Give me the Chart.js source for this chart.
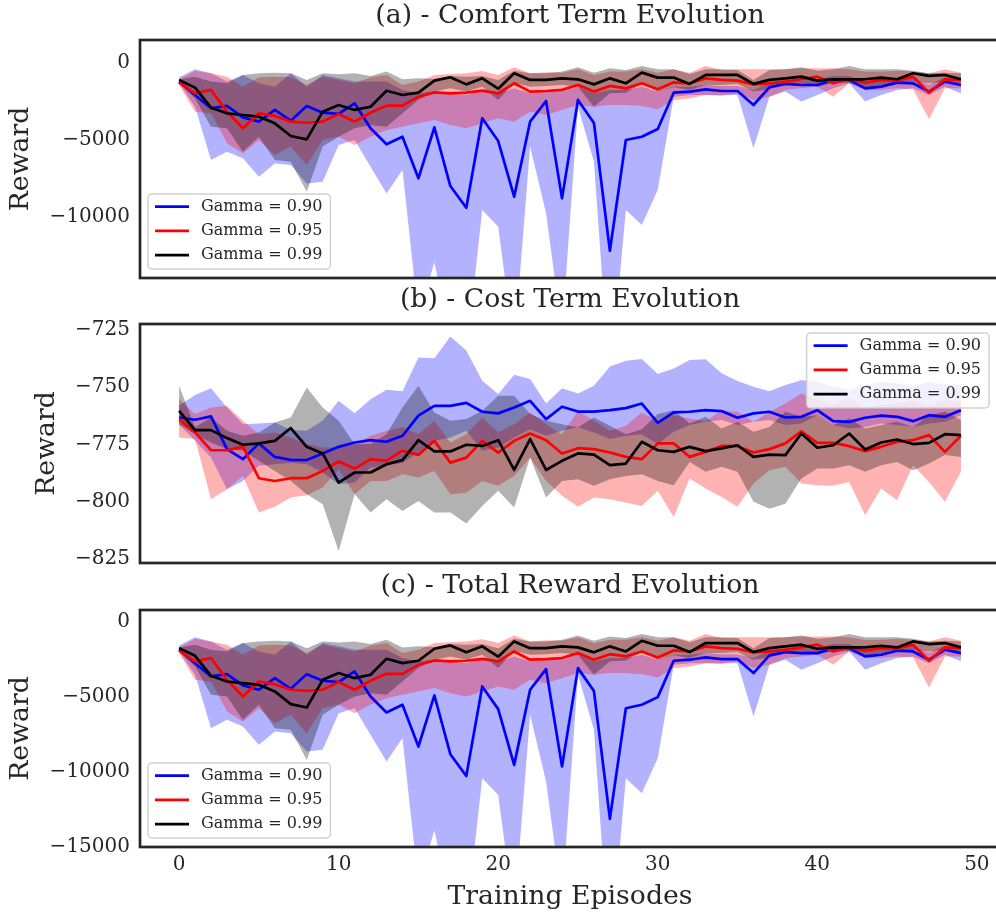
<!DOCTYPE html>
<html>
<head>
<meta charset="utf-8">
<title>Reward evolution</title>
<script src="https://cdn.jsdelivr.net/npm/chart.js@4.4.1/dist/chart.umd.min.js"></script>
<style>
  html, body { margin: 0; padding: 0; background: #fff; overflow: hidden; }
  #wrap { position: relative; width: 996px; height: 918px; overflow: hidden; }
  canvas { position: absolute; left: 0; }
</style>
</head>
<body>
<div id="wrap">
  <canvas id="comfortChart" width="1004" height="284" style="top:0px"></canvas>
  <canvas id="costChart" width="1004" height="285" style="top:284px"></canvas>
  <canvas id="totalChart" width="1004" height="349" style="top:569px"></canvas>
</div>
<script>
'use strict';

const FONT = "'DejaVu Serif', serif";
const INK  = '#262626';

const episodes = [0,1,2,3,4,5,6,7,8,9,10,11,12,13,14,15,16,17,18,19,20,21,22,23,24,
                  25,26,27,28,29,30,31,32,33,34,35,36,37,38,39,40,41,42,43,44,45,46,47,48,49];
const xTicks       = [0, 10, 20, 30, 40, 50];
const comfortTicks = [0, -5000, -10000];
const costTicks    = [-725, -750, -775, -800, -825];
const totalTicks   = [0, -5000, -10000, -15000];
const gammaLabels  = ['Gamma = 0.90', 'Gamma = 0.95', 'Gamma = 0.99'];

// (a) comfort term
const comfortMean090 = [-1210,-2080,-2940,-2790,-3530,-3810,-3050,-3750,-2790,-3230,
    -3310,-2620,-4240,-5280,-4790,-7490,-4180,-7990,-9400,-3590,
    -5070,-8680,-3810,-2470,-8790,-2400,-3900,-12190,-5000,-4790,
    -4290,-1930,-1860,-1710,-1820,-1820,-2730,-1580,-1360,-1430,
    -1430,-1100,-1100,-1650,-1540,-1280,-1320,-1860,-1210,-1430];
const comfortHigh090 = [-930,-410,-670,-1210,-780,-1320,-1540,-670,-1540,-780,
    -1000,-1210,-1210,-1210,-1750,-1970,-1860,-1970,-2080,-1750,
    -1970,-1650,-1970,-1750,-1860,-1540,-1970,-1750,-1750,-1540,
    -1860,-1540,-1540,-1430,-1490,-1490,-1750,-1280,-1100,-1150,
    -1060,-840,-840,-1210,-1150,-1000,-1000,-1430,-930,-1100];
const comfortLow090 = [-1320,-2840,-6300,-5760,-6190,-7380,-6520,-6630,-7820,-7710,
    -5330,-5000,-6730,-8470,-6950,-16500,-12930,-18000,-19000,-9550,
    -10630,-18500,-5430,-9760,-17500,-2840,-6410,-21000,-9550,-10520,
    -8250,-2190,-2080,-2080,-2080,-2080,-5540,-2190,-1860,-2510,
    -2080,-1650,-1320,-2510,-2080,-1750,-1650,-2080,-1540,-1970];
const comfortMean095 = [-1280,-1970,-1750,-3160,-4240,-3270,-3440,-3810,-3880,-3810,
    -3310,-3810,-3230,-2770,-2770,-2190,-1910,-1970,-1930,-1800,
    -1970,-1320,-1860,-1820,-1750,-1430,-1860,-1490,-1650,-1320,
    -1710,-1260,-1320,-1000,-1100,-1150,-1390,-1320,-1210,-1060,
    -890,-1320,-1060,-1280,-1100,-1150,-890,-1930,-1060,-1100];
const comfortHigh095 = [-1060,-500,-670,-890,-1540,-930,-890,-930,-1430,-890,
    -1100,-1320,-930,-780,-1430,-1210,-780,-710,-670,-520,
    -780,-280,-670,-610,-630,-410,-780,-560,-560,-410,
    -630,-410,-630,-200,-460,-410,-410,-410,-410,-350,
    -350,-350,-410,-560,-560,-500,-560,-670,-410,-630];
const comfortLow095 = [-1430,-3160,-3270,-5220,-5870,-5000,-5980,-5430,-6630,-5000,
    -4790,-5330,-4790,-4350,-4140,-3920,-3700,-4030,-4240,-3920,
    -3590,-3810,-3160,-3380,-3050,-2730,-2840,-2730,-2730,-2790,
    -3010,-2400,-2300,-2080,-2140,-1970,-2400,-2190,-1750,-1650,
    -1540,-2190,-1320,-1750,-1750,-1650,-1710,-3660,-1650,-1650];
const comfortMean099 = [-1100,-1600,-2900,-3270,-3380,-3490,-3920,-4740,-4960,-3160,
    -2730,-3050,-2840,-1800,-2080,-1930,-1150,-930,-1390,-1000,
    -1670,-670,-1100,-1100,-1000,-1060,-1390,-1000,-1320,-630,
    -950,-950,-1360,-780,-780,-780,-1360,-1100,-1000,-890,
    -1150,-1060,-1060,-1060,-950,-1060,-670,-840,-780,-1060];
const comfortHigh099 = [-1060,-890,-1210,-1320,-780,-670,-630,-670,-1100,-670,
    -740,-670,-840,-560,-1060,-1000,-1040,-840,-890,-840,
    -1100,-500,-670,-670,-560,-280,-630,-350,-460,-200,
    -410,-410,-710,-410,-410,-460,-1100,-460,-410,-280,
    -500,-410,-200,-410,-410,-410,-500,-670,-630,-670];
const comfortLow099 = [-1320,-2300,-4140,-4240,-5760,-4790,-6300,-6410,-8360,-5430,
    -4790,-4240,-4030,-4140,-3270,-2400,-1860,-1650,-1860,-1540,
    -2400,-1280,-1540,-1490,-1430,-1540,-2840,-1970,-1930,-1320,
    -1860,-1580,-1750,-1430,-1430,-1360,-1860,-1710,-1430,-1320,
    -1540,-1280,-1280,-1710,-1430,-1320,-1210,-1320,-1210,-1320];

// (b) cost term
const costMean090 = [-763.2,-764.2,-762.7,-777.0,-781.4,-774.5,-780.4,-781.7,-781.8,-778.9,
    -776.0,-774.1,-773.1,-773.8,-771.2,-762.4,-758.1,-758.1,-756.8,-760.7,
    -761.4,-758.8,-755.9,-763.9,-758.5,-760.6,-760.6,-760.0,-759.1,-757.1,
    -765.5,-761.0,-760.7,-760.0,-760.4,-763.3,-761.4,-760.7,-763.2,-762.9,
    -760.0,-764.8,-765.1,-763.3,-762.4,-762.9,-764.8,-762.2,-762.9,-760.0];
const costHigh090 = [-758.1,-753.4,-750.4,-758.8,-766.1,-765.8,-765.4,-768.7,-769.0,-764.6,
    -755.9,-761.4,-755.2,-751.1,-751.8,-737.0,-737.4,-727.9,-734.0,-747.2,
    -753.0,-744.5,-746.4,-757.1,-750.4,-752.7,-749.3,-741.0,-738.4,-737.7,
    -744.2,-741.8,-738.1,-737.8,-743.9,-747.3,-749.8,-751.7,-749.0,-746.9,
    -747.6,-749.8,-751.2,-749.0,-747.6,-748.3,-749.8,-747.6,-749.0,-749.0];
const costLow090 = [-766.1,-773.4,-780.7,-794.5,-790.9,-784.3,-783.6,-782.9,-783.6,-787.2,
    -792.3,-791.6,-785.0,-784.3,-782.9,-778.5,-773.4,-771.9,-769.0,-777.7,
    -776.3,-771.9,-768.3,-771.2,-769.0,-767.5,-769.7,-772.6,-771.2,-770.5,
    -774.8,-769.4,-766.5,-765.1,-764.3,-766.5,-765.1,-764.3,-766.5,-765.8,
    -762.2,-766.5,-768.0,-767.3,-765.8,-766.5,-767.3,-765.8,-765.1,-762.2];
const costMean095 = [-763.9,-769.7,-777.5,-777.5,-776.0,-789.7,-790.9,-789.7,-789.7,-786.5,
    -782.4,-785.5,-781.4,-782.1,-777.7,-779.5,-773.4,-782.9,-780.7,-773.4,
    -778.5,-773.4,-770.2,-773.1,-778.9,-776.6,-777.0,-778.5,-780.4,-781.4,
    -774.5,-774.5,-780.4,-778.2,-775.6,-775.7,-778.5,-777.0,-774.5,-769.2,
    -774.3,-774.3,-775.7,-777.9,-776.0,-773.8,-773.1,-770.9,-778.2,-771.2];
const costHigh095 = [-755.2,-761.7,-758.8,-758.1,-764.6,-770.5,-769.7,-771.9,-774.8,-776.3,
    -776.3,-774.8,-771.2,-769.0,-767.5,-770.5,-764.6,-774.1,-770.5,-763.2,
    -769.7,-766.1,-761.0,-766.1,-770.5,-760.3,-764.6,-769.0,-766.8,-761.0,
    -764.6,-762.2,-763.6,-764.8,-760.0,-760.7,-765.1,-760.7,-757.1,-752.7,
    -755.6,-757.8,-754.9,-759.2,-757.8,-757.1,-755.6,-758.5,-755.6,-756.3];
const costLow095 = [-771.9,-772.6,-798.9,-794.5,-788.7,-804.7,-802.2,-798.1,-797.1,-793.8,
    -785.8,-796.7,-790.9,-790.9,-788.0,-789.4,-786.5,-796.7,-796.0,-790.9,
    -793.0,-788.7,-780.7,-790.9,-797.4,-802.2,-798.1,-798.9,-800.3,-801.8,
    -795.2,-806.6,-789.8,-794.2,-797.9,-802.2,-792.0,-786.2,-784.7,-792.0,
    -792.8,-793.0,-791.3,-805.9,-794.2,-799.3,-784.0,-791.3,-800.0,-786.9];
const costMean099 = [-760.3,-768.7,-768.7,-772.2,-775.1,-774.5,-773.4,-767.8,-776.0,-778.9,
    -791.6,-787.2,-787.2,-783.6,-781.8,-773.1,-778.0,-778.0,-775.1,-775.6,
    -773.1,-786.1,-772.6,-786.1,-782.1,-778.9,-779.4,-784.0,-783.3,-773.8,
    -777.5,-778.2,-776.0,-777.9,-776.7,-775.3,-780.4,-779.4,-779.6,-770.2,
    -776.4,-775.3,-770.2,-777.2,-774.1,-772.8,-774.8,-774.3,-770.5,-770.9];
const costHigh099 = [-749.3,-767.5,-763.2,-769.0,-771.2,-769.7,-765.4,-763.2,-750.1,-758.8,
    -764.6,-774.8,-774.8,-770.5,-758.8,-749.3,-761.0,-764.6,-763.9,-760.3,
    -753.7,-753.7,-761.7,-764.6,-766.1,-767.5,-763.2,-766.8,-770.5,-768.3,
    -761.7,-760.0,-765.8,-762.9,-768.0,-765.1,-769.4,-767.3,-760.7,-762.9,
    -762.2,-766.5,-763.6,-768.0,-766.5,-765.1,-767.3,-762.2,-760.7,-764.3];
const costLow099 = [-766.1,-770.5,-774.1,-777.0,-777.7,-782.1,-786.5,-790.9,-796.7,-801.1,
    -821.5,-796.7,-804.7,-798.9,-804.0,-799.6,-804.7,-804.7,-809.5,-801.8,
    -795.2,-802.5,-780.7,-798.1,-790.9,-790.1,-793.0,-790.1,-788.7,-788.0,
    -790.9,-792.8,-782.6,-786.9,-784.7,-786.9,-800.0,-803.0,-800.8,-789.8,
    -785.5,-785.5,-784.0,-786.9,-784.0,-782.6,-786.2,-783.3,-779.6,-780.4];

// (c) total reward
const totalMean090 = [-1870,-2760,-3640,-3490,-4240,-4530,-3760,-4470,-3490,-3930,
    -4020,-3310,-4980,-6040,-5530,-8310,-4910,-8820,-10270,-4310,
    -5820,-9530,-4530,-3160,-9640,-3090,-4620,-13130,-5760,-5530,
    -5020,-2600,-2530,-2380,-2490,-2490,-3420,-2240,-2020,-2090,
    -2090,-1760,-1760,-2310,-2200,-1930,-1980,-2530,-1870,-2090];
const totalHigh090 = [-1580,-1040,-1310,-1870,-1420,-1980,-2200,-1310,-2200,-1420,
    -1640,-1870,-1870,-1870,-2420,-2640,-2530,-2640,-2760,-2420,
    -2640,-2310,-2640,-2420,-2530,-2200,-2640,-2420,-2420,-2200,
    -2530,-2200,-2200,-2090,-2160,-2160,-2420,-1930,-1760,-1800,
    -1710,-1490,-1490,-1870,-1800,-1640,-1640,-2090,-1580,-1760];
const totalLow090 = [-1980,-3530,-7090,-6530,-6980,-8200,-7310,-7420,-8640,-8530,
    -6090,-5760,-7530,-9310,-7760,-17500,-13890,-19000,-20000,-10420,
    -11530,-19500,-6200,-10640,-18500,-3530,-7200,-22500,-10420,-11420,
    -9090,-2870,-2760,-2760,-2760,-2760,-6310,-2870,-2530,-3200,
    -2760,-2310,-1980,-3200,-2760,-2420,-2310,-2760,-2200,-2640];
const totalMean095 = [-1930,-2640,-2420,-3870,-4980,-3980,-4160,-4530,-4600,-4530,
    -4020,-4530,-3930,-3470,-3470,-2870,-2580,-2640,-2600,-2470,
    -2640,-1980,-2530,-2490,-2420,-2090,-2530,-2160,-2310,-1980,
    -2380,-1910,-1980,-1640,-1760,-1800,-2040,-1980,-1870,-1710,
    -1530,-1980,-1710,-1930,-1760,-1800,-1530,-2600,-1710,-1760];
const totalHigh095 = [-1710,-1130,-1310,-1530,-2200,-1580,-1530,-1580,-2090,-1530,
    -1760,-1980,-1580,-1420,-2090,-1870,-1420,-1360,-1310,-1160,
    -1420,-910,-1310,-1240,-1270,-1040,-1420,-1200,-1200,-1040,
    -1270,-1040,-1270,-820,-1090,-1040,-1040,-1040,-1040,-980,
    -980,-980,-1040,-1200,-1200,-1130,-1200,-1310,-1040,-1270];
const totalLow095 = [-2090,-3870,-3980,-5980,-6640,-5760,-6760,-6200,-7420,-5760,
    -5530,-6090,-5530,-5090,-4870,-4640,-4420,-4760,-4980,-4640,
    -4310,-4530,-3870,-4090,-3760,-3420,-3530,-3420,-3420,-3490,
    -3710,-3090,-2980,-2760,-2820,-2640,-3090,-2870,-2420,-2310,
    -2200,-2870,-1980,-2420,-2420,-2310,-2380,-4380,-2310,-2310];
const totalMean099 = [-1760,-2270,-3600,-3980,-4090,-4200,-4640,-5490,-5710,-3870,
    -3420,-3760,-3530,-2470,-2760,-2600,-1800,-1580,-2040,-1640,
    -2330,-1310,-1760,-1760,-1640,-1710,-2040,-1640,-1980,-1270,
    -1600,-1600,-2020,-1420,-1420,-1420,-2020,-1760,-1640,-1530,
    -1800,-1710,-1710,-1710,-1600,-1710,-1310,-1490,-1420,-1710];
const totalHigh099 = [-1710,-1530,-1870,-1980,-1420,-1310,-1270,-1310,-1760,-1310,
    -1380,-1310,-1490,-1200,-1710,-1640,-1690,-1490,-1530,-1490,
    -1760,-1130,-1310,-1310,-1200,-910,-1270,-980,-1090,-820,
    -1040,-1040,-1360,-1040,-1040,-1090,-1760,-1090,-1040,-910,
    -1130,-1040,-820,-1040,-1040,-1040,-1130,-1310,-1270,-1310];
const totalLow099 = [-1980,-2980,-4870,-4980,-6530,-5530,-7090,-7200,-9200,-6200,
    -5530,-4980,-4760,-4870,-3980,-3090,-2530,-2310,-2530,-2200,
    -3090,-1930,-2200,-2160,-2090,-2200,-3530,-2640,-2600,-1980,
    -2530,-2240,-2420,-2090,-2090,-2020,-2530,-2380,-2090,-1980,
    -2200,-1930,-1930,-2380,-2090,-1980,-1870,-1980,-1870,-1980];

const lineColors = ['#0000ff', '#ff0000', '#000000'];
const bandColors = ['rgba(0,0,255,0.3)', 'rgba(255,0,0,0.3)', 'rgba(0,0,0,0.3)'];

const fmt = v => (v < 0 ? '\u2212' + Math.abs(v) : String(v));
const pts = arr => arr.map((v, i) => ({ x: episodes[i], y: v }));

// dark frame round the plot area, drawn over the data like mpl spines
const framePlugin = {
    id: 'frame',
    afterDatasetsDraw(chart) {
        const { ctx, chartArea: { left, top, right, bottom } } = chart;
        ctx.save();
        ctx.strokeStyle = INK;
        ctx.lineWidth = 2.7;
        ctx.strokeRect(left, top, right - left, bottom - top);
        ctx.restore();
    },
};

// title centred over the plot area, not the canvas
const titlePlugin = {
    id: 'panelTitle',
    afterDraw(chart, args, opts) {
        const { ctx, chartArea: { left, right } } = chart;
        ctx.save();
        ctx.font = `26.7px ${FONT}`;
        ctx.fillStyle = INK;
        ctx.textAlign = 'center';
        ctx.textBaseline = 'middle';
        ctx.fillText(opts.text, (left + right) / 2, opts.y);
        ctx.restore();
    },
};

// matplotlib-style framed legend inside the axes
const legendPlugin = {
    id: 'boxLegend',
    afterDraw(chart, args, opts) {
        const { ctx, chartArea } = chart;
        const items = chart.data.datasets.filter(d => !d.band);
        ctx.save();
        ctx.font = `16px ${FONT}`;
        const textW = Math.max(...items.map(d => ctx.measureText(d.label).width));
        const rowH = 24.2, padX = 7, lineLen = 34, gap = 12;
        const w = padX + lineLen + gap + textW + 8;
        const h = rowH * items.length + 2.4;
        const x = opts.corner === 'upper right' ? chartArea.right - 11 - w : chartArea.left + 8;
        const y = opts.corner === 'upper right' ? chartArea.top + 9 : chartArea.bottom - 9 - h;

        ctx.beginPath();
        if (ctx.roundRect) ctx.roundRect(x, y, w, h, 4); else ctx.rect(x, y, w, h);
        ctx.fillStyle = 'rgba(255,255,255,0.8)';
        ctx.fill();
        ctx.strokeStyle = 'rgba(204,204,204,0.9)';
        ctx.lineWidth = 1.5;
        ctx.stroke();

        items.forEach((d, i) => {
            const cy = y + 12.7 + i * rowH;
            ctx.strokeStyle = d.borderColor;
            ctx.lineWidth = 2.7;
            ctx.beginPath(); ctx.moveTo(x + padX, cy); ctx.lineTo(x + padX + lineLen, cy); ctx.stroke();
            ctx.fillStyle = INK;
            ctx.textAlign = 'left';
            ctx.textBaseline = 'middle';
            ctx.fillText(d.label, x + padX + lineLen + gap, cy);
        });
        ctx.restore();
    },
};

function buildPanel(canvasId, cfg) {
    const datasets = [];
    cfg.series.forEach((s, k) => {
        const idx = datasets.length;
        datasets.push({
            band: true, data: pts(s.high), fill: idx + 1, backgroundColor: bandColors[k],
            borderColor: 'rgba(0,0,0,0)', borderWidth: 0, pointRadius: 0, order: 10 - k,
        });
        datasets.push({
            band: true, data: pts(s.low), fill: false,
            borderColor: 'rgba(0,0,0,0)', borderWidth: 0, pointRadius: 0, order: 10 - k,
        });
    });
    cfg.series.forEach((s, k) => {
        datasets.push({
            label: gammaLabels[k], data: pts(s.mean), borderColor: lineColors[k],
            borderWidth: 2.7, borderJoinStyle: 'round', pointRadius: 0, fill: false, order: 3 - k,
        });
    });

    const ctx = document.getElementById(canvasId).getContext('2d');
    return new Chart(ctx, {
        type: 'line',
        data: { datasets },
        options: {
            responsive: false,
            animation: false,
            devicePixelRatio: 1,
            layout: { padding: cfg.padding },
            plugins: {
                legend: { display: false },
                tooltip: { enabled: false },
                panelTitle: { text: cfg.title, y: 16 + (cfg.padding.top - 40) },
                boxLegend: { corner: cfg.legendCorner },
            },
            scales: {
                x: {
                    type: 'linear', min: -2.45, max: 51.45,
                    display: cfg.showX,
                    grid: { display: false, drawTicks: false },
                    border: { display: false },
                    ticks: { font: { family: FONT, size: 20 }, color: INK, padding: 6, maxRotation: 0 },
                    afterBuildTicks: s => { s.ticks = xTicks.map(v => ({ value: v })); },
                    afterFit: s => {
                        if (!cfg.showX) return;
                        s.height = 71; s.paddingLeft = 0; s.paddingRight = 0;
                    },
                    title: {
                        display: true, text: 'Training Episodes', color: INK,
                        font: { family: FONT, size: 26.7 }, padding: { top: 0, bottom: 5 },
                    },
                },
                y: {
                    min: cfg.yMin, max: cfg.yMax,
                    grid: { display: false, drawTicks: false },
                    border: { display: false },
                    ticks: { font: { family: FONT, size: 20 }, color: INK, padding: 10, callback: fmt },
                    afterBuildTicks: s => { s.ticks = cfg.yTicks.map(v => ({ value: v })); },
                    afterFit: s => { s.width = 140; s.paddingTop = 0; s.paddingBottom = 0; },
                    title: {
                        display: true, text: 'Reward', color: INK,
                        font: { family: FONT, size: 26.7 }, padding: { top: cfg.yTitlePad, bottom: 0 },
                    },
                },
            },
        },
        plugins: [framePlugin, titlePlugin, legendPlugin],
    });
}

buildPanel('comfortChart', {
    title: '(a) - Comfort Term Evolution',
    series: [
        { mean: comfortMean090, high: comfortHigh090, low: comfortLow090 },
        { mean: comfortMean095, high: comfortHigh095, low: comfortLow095 },
        { mean: comfortMean099, high: comfortHigh099, low: comfortLow099 },
    ],
    yMin: -13960, yMax: 1490, yTicks: comfortTicks, yTitlePad: 5,
    legendCorner: 'lower left', showX: false,
    padding: { top: 40, bottom: 6, left: 0, right: 4 },
});

buildPanel('costChart', {
    title: '(b) - Cost Term Evolution',
    series: [
        { mean: costMean090, high: costHigh090, low: costLow090 },
        { mean: costMean095, high: costHigh095, low: costLow095 },
        { mean: costMean099, high: costHigh099, low: costLow099 },
    ],
    yMin: -826.7, yMax: -722.4, yTicks: costTicks, yTitlePad: 31,
    legendCorner: 'upper right', showX: false,
    padding: { top: 40, bottom: 6, left: 0, right: 4 },
});

buildPanel('totalChart', {
    title: '(c) - Total Reward Evolution',
    series: [
        { mean: totalMean090, high: totalHigh090, low: totalLow090 },
        { mean: totalMean095, high: totalHigh095, low: totalLow095 },
        { mean: totalMean099, high: totalHigh099, low: totalLow099 },
    ],
    yMin: -15000, yMax: 780, yTicks: totalTicks, yTitlePad: 5,
    legendCorner: 'lower left', showX: true,
    padding: { top: 41, bottom: 0, left: 0, right: 4 },
});
</script>
</body>
</html>
